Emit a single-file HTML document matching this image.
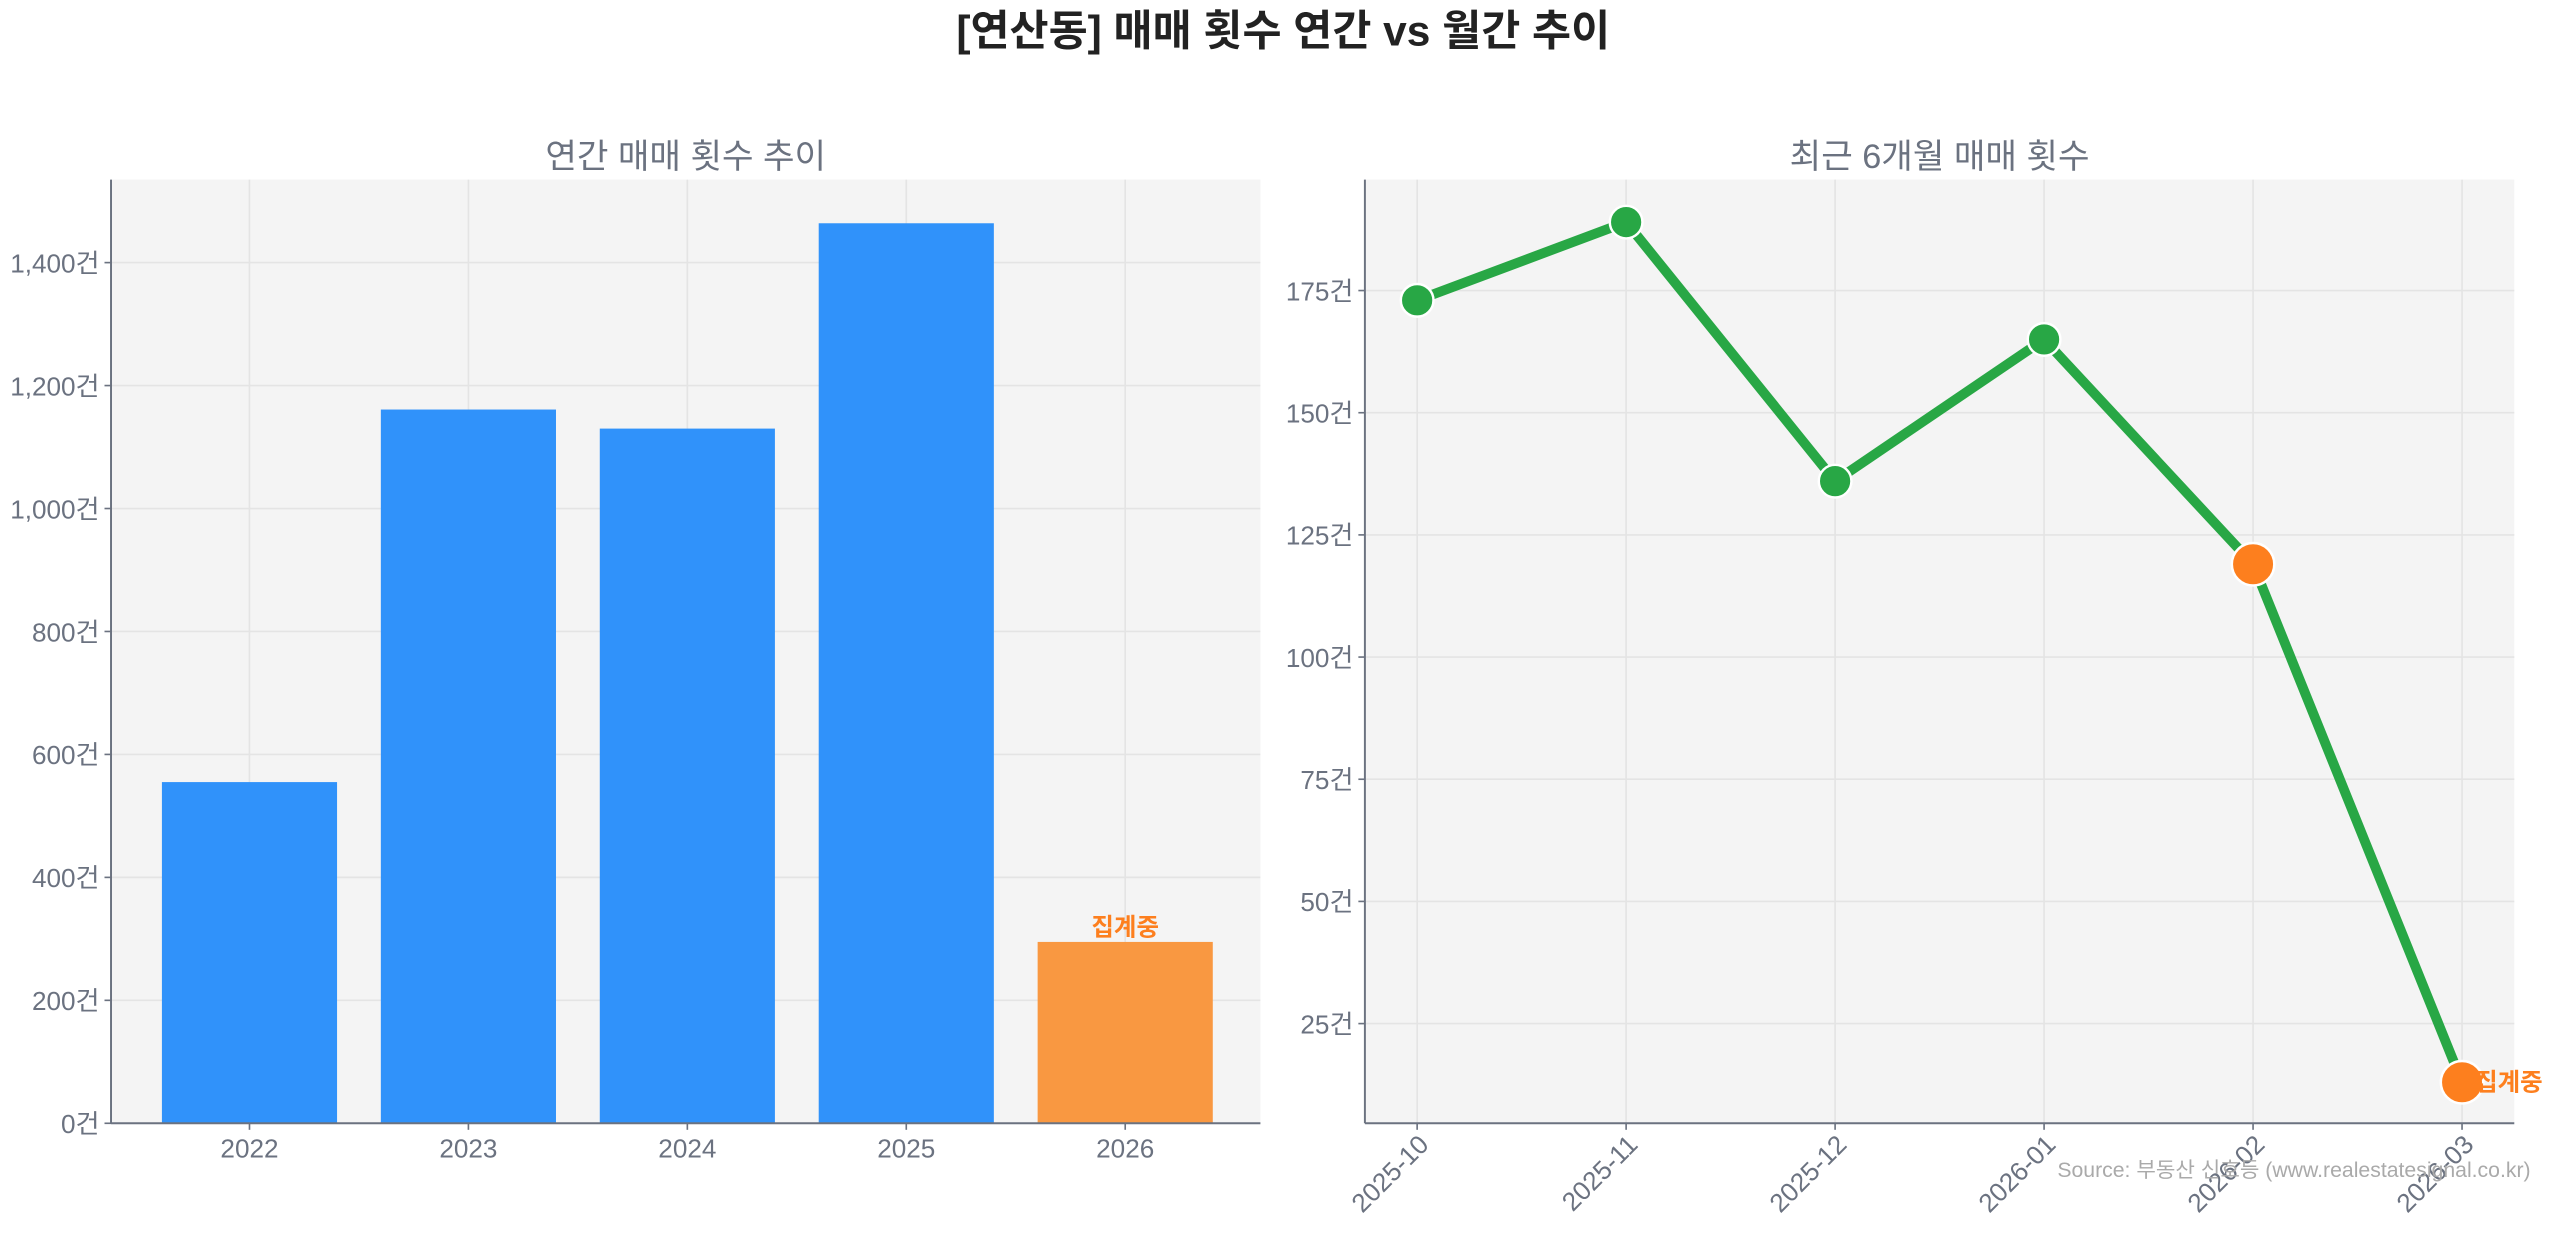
<!DOCTYPE html>
<html><head><meta charset="utf-8">
<style>
html,body{margin:0;padding:0;background:#fff;}
svg{display:block;font-family:"Liberation Sans","Noto Sans CJK KR",sans-serif;}
</style></head>
<body>
<svg id="chart" width="2560" height="1234" viewBox="0 0 1568 755.8" xmlns="http://www.w3.org/2000/svg">
<text x="786" y="28" text-anchor="middle" font-size="26" font-weight="bold" fill="#222">[연산동] 매매 횟수 연간 vs 월간 추이</text>
<g id="left"></g>
<g id="right"></g>
<text x="1550" y="721" text-anchor="end" font-size="13" fill="#aaa">Source: 부동산 신호등 (www.realestatesignal.co.kr)</text>
</svg>
<script>
const years = ['2022','2023','2024','2025','2026'];
const yearValues = [555, 1161, 1130, 1464, 295];
const yearPending = [false,false,false,false,true];
const leftTicks = [0,200,400,600,800,1000,1200,1400];
const months = ['2025-10','2025-11','2025-12','2026-01','2026-02','2026-03'];
const monthValues = [173, 189, 136, 165, 119, 13];
const monthPending = [false,false,false,false,true,true];
const rightTicks = [25,50,75,100,125,150,175];

const NS='http://www.w3.org/2000/svg';
function mk(tag, attrs, parent, text){const e=document.createElementNS(NS,tag);for(const k in attrs)e.setAttribute(k,attrs[k]);if(text!==undefined)e.textContent=text;parent.appendChild(e);return e;}
const fmt=v=>v.toLocaleString('en-US')+'건';

// Left chart
const L=document.getElementById('left');
const lx0=68,lx1=772,ly0=688,ly1=110,lmax=1535;
const ly=v=>ly0-(v/lmax)*(ly0-ly1);
const band=(lx1-lx0)/(years.length+0.25);
const lxc=i=>lx0+band*(0.625+i)+1;
let bg=mk('rect',{x:lx0,y:ly1,width:lx1-lx0,height:ly0-ly1,fill:'#f4f4f4'},L);

let tl=mk('text',{x:(lx0+lx1)/2,y:103,'text-anchor':'middle','font-size':21,fill:'#6b7280'},L,'연간 매매 횟수 추이');

leftTicks.forEach(t=>{
  mk('line',{x1:lx0,x2:lx1,y1:ly(t),y2:ly(t),stroke:'#e4e4e4','stroke-width':1},L);
  mk('line',{x1:lx0-4,x2:lx0,y1:ly(t),y2:ly(t),stroke:'#6b7280'},L);
  const e=mk('text',{x:lx0-7,y:ly(t)+6,'text-anchor':'end','font-size':16,fill:'#6b7280'},L,fmt(t));
  
});
years.forEach((y,i)=>mk('line',{x1:lxc(i),x2:lxc(i),y1:ly1,y2:ly0,stroke:'#e4e4e4'},L));
years.forEach((y,i)=>{
  const w=band*0.8;
  const b=mk('rect',{x:lxc(i)-w/2,y:ly(yearValues[i]),width:w,height:ly0-ly(yearValues[i]),fill:yearPending[i]?'#f99841':'#3092fa'},L);
  
  mk('line',{x1:lxc(i),x2:lxc(i),y1:ly0,y2:ly0+4,stroke:'#6b7280'},L);
  const e=mk('text',{x:lxc(i),y:ly0+21,'text-anchor':'middle','font-size':16,fill:'#6b7280'},L,y);
  
  if(yearPending[i]){const p=mk('text',{x:lxc(i),y:ly(yearValues[i])-4,'text-anchor':'middle','font-size':15,'font-weight':'bold',fill:'#fd7f1e'},L,'집계중');
    }
});
mk('line',{x1:lx0,x2:lx0,y1:ly1,y2:ly0,stroke:'#6b7280','stroke-width':1.2},L);
mk('line',{x1:lx0,x2:lx1,y1:ly0,y2:ly0,stroke:'#6b7280','stroke-width':1.2},L);

// Right chart
const R=document.getElementById('right');
const rx0=836,rx1=1540,ry0=688,ry1=110,rmin=4.6,rmax=197.7;
const ry=v=>ry0-(v-rmin)/(rmax-rmin)*(ry0-ry1);
const step=(1508-868)/(months.length-1);
const rxc=i=>868+step*i;
bg=mk('rect',{x:rx0,y:ry1,width:rx1-rx0,height:ry0-ry1,fill:'#f4f4f4'},R);

tl=mk('text',{x:(rx0+rx1)/2,y:103,'text-anchor':'middle','font-size':21,fill:'#6b7280'},R,'최근 6개월 매매 횟수');

rightTicks.forEach(t=>{
  mk('line',{x1:rx0,x2:rx1,y1:ry(t),y2:ry(t),stroke:'#e4e4e4'},R);
  mk('line',{x1:rx0-4,x2:rx0,y1:ry(t),y2:ry(t),stroke:'#6b7280'},R);
  const e=mk('text',{x:rx0-7,y:ry(t)+6,'text-anchor':'end','font-size':16,fill:'#6b7280'},R,fmt(t));
  
});
months.forEach((m,i)=>{
  mk('line',{x1:rxc(i),x2:rxc(i),y1:ry1,y2:ry0,stroke:'#e4e4e4'},R);
  mk('line',{x1:rxc(i),x2:rxc(i),y1:ry0,y2:ry0+4,stroke:'#6b7280'},R);
  const e=mk('text',{x:rxc(i)+8,y:ry0+14,'text-anchor':'end','font-size':16,fill:'#6b7280',transform:`rotate(-45 ${rxc(i)+8} ${ry0+14})`},R,m);
  
});
const pts=monthValues.map((v,i)=>rxc(i)+','+ry(v)).join(' ');
const ln=mk('polyline',{points:pts,fill:'none',stroke:'#28a745','stroke-width':6,'stroke-linejoin':'round'},R);

monthValues.forEach((v,i)=>{
  const c=mk('circle',{cx:rxc(i),cy:ry(v),r:monthPending[i]?13:10,fill:monthPending[i]?'#fd7f1e':'#28a745',stroke:'#fff','stroke-width':1.5},R);
  
});
const last=monthValues.length-1;
const pl=mk('text',{x:rxc(last)+8,y:ry(monthValues[last])+5,'font-size':15,'font-weight':'bold',fill:'#fd7f1e'},R,'집계중');

mk('line',{x1:rx0,x2:rx0,y1:ry1,y2:ry0,stroke:'#6b7280','stroke-width':1.2},R);
mk('line',{x1:rx0,x2:rx1,y1:ry0,y2:ry0,stroke:'#6b7280','stroke-width':1.2},R);
</script>
</body></html>
